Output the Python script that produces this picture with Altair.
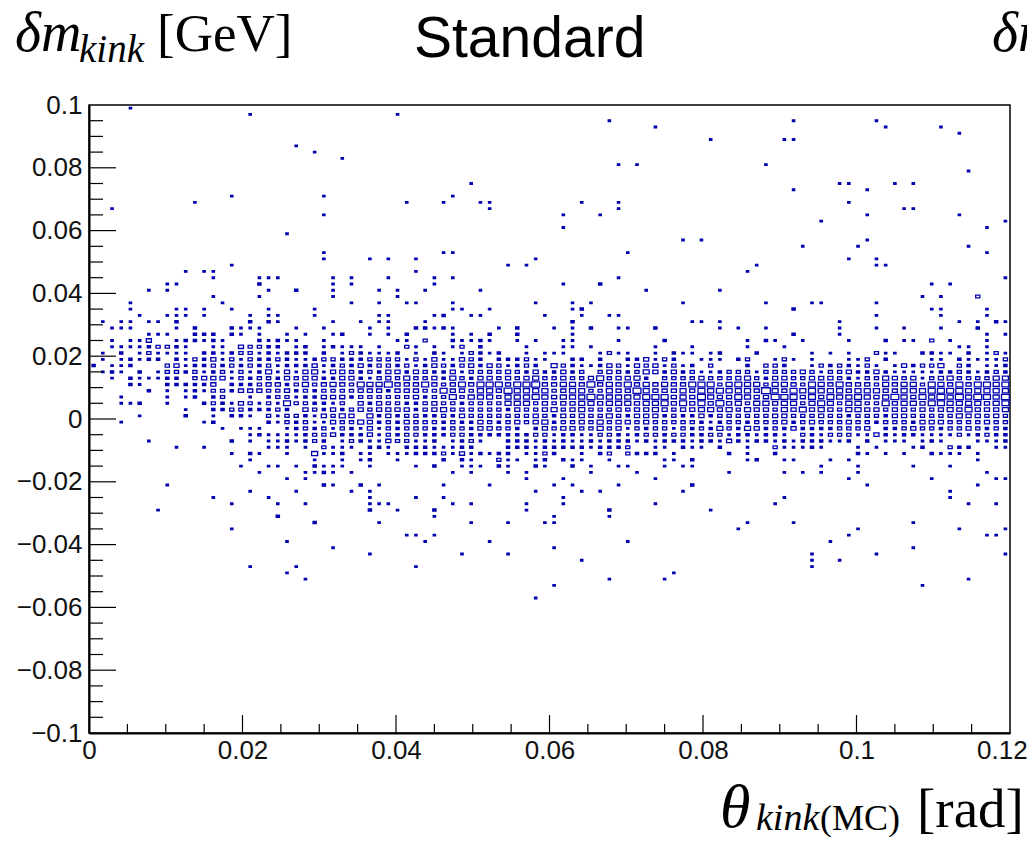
import altair as alt
import pandas as pd

# Each row holds the occupied x-bin numbers of one y-bin: "bin" or "bin:level" (level is box content, default 1)
ROW_P099 = "4"
ROW_P097 = "17 33"
ROW_P095 = "56 76 85"
ROW_P093 = "61 86 92"
ROW_P091 = "94"
ROW_P089 = "67 75 76"
ROW_P087 = "22"
ROW_P085 = "24"
ROW_P083 = "27"
ROW_P081 = "57 59 73"
ROW_P079 = "95"
ROW_P075 = "41 81 82 87 89"
ROW_P073 = "76 84"
ROW_P071 = "15 25 39"
ROW_P069 = "11 34 38 42 43 53 57 82"
ROW_P067 = "2 43 57 88 89"
ROW_P065 = "25 51 55 84 94"
ROW_P063 = "79 99"
ROW_P061 = "51 97"
ROW_P059 = "21"
ROW_P057 = "64 66 84"
ROW_P055 = "77 83 95"
ROW_P053 = "25 38 39 58 97"
ROW_P051 = "25 30 32 35 48 82 85"
ROW_P049 = "15 45 47 72 85 86"
ROW_P047 = "10 12 13 35 71"
ROW_P045 = "13 18 19 20 26 28 32 37 39 57 99"
ROW_P043 = "8 9 18:2 26 28 37 51 55:2 91 93"
ROW_P041 = "6 8 19 22:2 26 31 33 36 42 60 68"
ROW_P039 = "13 18 26 33 90 92 96:3"
ROW_P037 = "4 14 28 31 34 35 39 48 52 54 64 73 78 79 85"
ROW_P035 = "4 9 10 12 15 19 24 39 40 43 52 53:2 76:2 91 92 97"
ROW_P033 = "5 8 9 10 12 17 19 20 24 31 32 37 38:2 41 42 49 53 56 57 85 92 97"
ROW_P031 = "1 3 4 6 7 9:2 17:2 19:2 20 26 29 31 32 36 52:2 65 66 68 81 94 96 98:2 99"
ROW_P029 = "2 3 4 9 11:2 15:2 16 17 18 22 25 30 32 35:2 36:2 37 38:2 39 44 46:2 50 52 54:2 57 58 61:2 68 70 73 81 85 88 92 96:2"
ROW_P027 = "6 7 8 11:2 12:2 13:2 15:2 16 18 21 23 26 27:2 30 32 34:2 39 41 43:2 46:2 52 76:2 81 97 99"
ROW_P025 = "2 4 5 6:4 9 10:2 11:2 12 13:2 14 18:2 19 20:2 21 22 25 33 34 36:3 39:2 40 41 42:2 43 46 48 51 52 57 62:2 71 73:2 74 77 82 86:2 88 89 91:3 93 97"
ROW_P023 = "2 3 4 5 6:2 7:3 8:3 9:2 10 13 14 16:4 17:3 18:3 19:2 20:2 22 23:2 25 26:2 27 28 29 31 34:3 35 37 39 40:3 42:2 47 51 52 54 61 65 71 75 94 95 97"
ROW_P021 = "1 3:2 5 6:3 7 8 9 10 12:2 13:2 14 15:2 16:3 17:3 18 19:2 20 21:2 22:2 23:2 25:2 27 28:3 29:2 30 31 32 33:2 35 37:2 38 40 41:3 42:2 43 44:2 47 49 50 51 55 56:3 57 58 61 63:2 64 65 67 68:2 72:2 78 80 82 85:3 86 87 90:2 91:2 92 93 95:2 97 98:3 99"
ROW_P019 = "1 3 4:2 5 6:2 7:2 9:2 10 11:3 12:2 13:4 14 15:3 16 17:3 18:2 19:2 20:3 21:2 22 23 24:2 25:3 26:3 27:2 28:2 29:2 30:3 31:3 32:3 33:3 34 35:3 36 37:4 38 39 40:4 41:3 42:2 44:2 45:2 46:2 47:3 48 49 52:2 53:2 55:2 58:2 59:2 60:4 61 62:3 63:2 66 67 68 70:2 71:3 74 75:3 76 78 82 83 84:3 86:2 91 92 94:2 95 96 97 98 99:3"
ROW_P017 = "0:2 2 3 4:2 8:3 9:4 10 11:2 12:2 13:3 14:2 15:3 16:2 17:3 18:2 19:3 20 21:2 22:2 23:2 24:4 25 26:2 27:3 28:2 29:4 30:2 31:3 32:3 33:2 34:3 35 36:2 37:4 38:3 39:2 40:3 41:4 42:2 43:4 44:3 45 46:2 47:3 48:2 50:5 51:3 52:2 53 54 55:2 56:4 57:3 58 59:4 60:3 61:4 62 63:3 64 65:2 67:3 71:2 73:3 74:3 75:2 78 79:3 80:2 81:3 82:2 83 84:3 85 87 88:4 89:2 90:3 91:3 92:5 94:3 95:2 97 98 99:2"
ROW_P015 = "1 2:2 3 5:2 7 8:3 9:3 10:2 11:3 12 13:2 14:3 15 16:3 17 18:2 19:5 20 21:4 22 23:4 24:5 25 26:4 27:4 28:3 29:2 30:3 31:2 32:4 33:4 34:2 35:4 36:3 37:2 38:2 39:4 40 41:3 42:3 43:3 44:3 45:4 46:3 47:2 48:4 49:2 50:2 51:4 52:2 53:3 55:3 56:4 57:3 58:2 59:3 60:5 61:4 62:2 63:4 64:2 65:3 66 67 68:2 69:3 70:3 71:3 72 73:3 74:3 75:3 76:3 77:4 78:3 79 80:3 81:3 82:4 83:2 84:2 85:4 86:2 87 88 89 90 91 92:2 93:2 94:3 95:2 96 97:2 98:3 99:2"
ROW_P013 = "2 4:2 5 6 7 8:2 9:2 11:3 12:4 13:4 14:4 15 16:3 17:2 18:3 19:3 20:2 21:4 22:3 23:4 24:4 25:2 26:2 27:4 28:4 29:2 30 31:3 32:4 33:3 34:5 35:3 36:3 37:4 38:2 39:5 40:3 41:2 42:4 43:4 44:3 45:4 46:3 47:4 48:5 49:3 50:3 51:4 52:3 53:3 54:4 55:6 56:3 57:4 58:4 59:5 60:2 62:3 63:3 64:3 65:3 66:4 67:3 68:3 69:3 70:4 71:5 72:3 73:2 74:4 75:4 76:3 77:3 78:4 79:4 80:4 81:3 82:2 83 84:3 85:3 86:5 87:4 88:3 89:4 90 91:3 92:4 93:5 94:3 95:3 96:3 97:3 98:5 99:5"
ROW_P011 = "4:2 5 8:2 9:2 10:2 11:2 12:2 13:4 15:2 16:2 17:2 18:3 19:4 20:4 21:2 22:3 23:5 24:3 25:4 26:5 27:4 28:3 29:6 30:5 31:5 32:7 33:4 34:4 35:4 36:6 37:4 38:3 39:4 40:6 41:4 42:6 43:6 44:6 45:4 46:6 47:6 48:7 49:4 50:4 51:5 52:5 53:4 54:7 55:4 56:5 57:4 58:6 59:4 60:5 61:4 62:5 63:4 64:4 65:6 66:6 67:6 68:3 69:5 70:6 71:5 72:5 73:3 74:5 75:5 76:4 77:3 78:6 79:5 80:4 81:6 82:4 83:4 84:4 85:3 86:5 87:4 88:5 89:5 90:3 91:6 92:5 93:4 94:6 95:4 96:6 97:6 98:5 99:6"
ROW_P009 = "6:2 8 10 11:2 12 13:3 14:3 15:2 16:4 17:4 18:4 19:3 20:3 21:4 22:2 23:3 24:2 25:3 26:3 27:3 28:3 29:4 30:4 31:4 32:2 33:4 34:4 35:4 36:3 37:3 38:6 39:4 40:4 41:3 42:5 43:5 44:4 45:7 46:5 47:5 48:5 49:5 50:3 51:4 52:5 53:5 54:3 55:3 56:5 57:4 58:4 59:7 60:5 61:4 62:4 63:4 64:5 65:4 66:6 67:5 68:6 69:5 70:5 71:5 72:4 73:8 74:5 75:4 76:6 77:5 78:6 79:5 80:5 81:5 82:4 83:5 84:5 85:5 86:4 87:4 88:5 89:5 90:5 91:6 92:6 93:6 94:6 95:5 96:5 97:5 98:5 99:5"
ROW_P007 = "3 8 10 11:2 13:2 14:3 17 19:2 20:3 21:3 22 23:2 24:2 25:4 26:4 27:4 28:2 29:3 30:3 31:3 32:3 33:3 34:3 35:4 36:2 37:3 38:3 39:6 40:3 41:5 42:5 43:5 44:3 45:5 46:5 47:5 48:6 49:5 50:4 51:5 52:5 53:5 54:7 55:5 56:5 57:5 58:5 59:5 60:6 61:6 62:6 63:4 64:5 65:4 66:7 67:5 68:4 69:4 70:6 71:5 72:4 73:4 74:7 75:6 76:6 77:4 78:6 79:4 80:6 81:5 82:5 83:6 84:5 85:4 86:5 87:7 88:5 89:4 90:6 91:5 92:7 93:5 94:7 95:5 96:7 97:6 98:5 99:7"
ROW_P005 = "3 4 5:2 8 12:2 13:3 14:2 15 16:4 17:3 18 19:3 20 21:6 22:3 23:3 24:2 25:2 26 27:3 29:4 30:2 31:4 32:3 33:3 34:2 35:2 36:3 37:4 38:3 39:3 40:2 41:3 42:3 43:3 44:3 45:5 46:5 47:5 48:3 49:4 50:3 51:4 52:4 53:5 54:5 55:4 56:5 57:5 58:5 59:4 60:5 61:5 62:6 63:4 64:6 65:4 66:6 67:4 68:7 69:4 70:5 71:3 72:5 73:5 74:4 75:5 76:5 77:3 78:5 79:6 80:5 81:3 82:5 83:5 84:3 85:3 86:6 87:4 88:5 89:5 90:4 91:6 92:6 93:5 94:5 95:5 96:5 97:4 98:5 99:6"
ROW_P003 = "10 13:2 14:2 15:3 16:3 17:2 18:2 19:2 20:3 21:2 23:4 24:3 25:2 26:4 27:2 28:3 29:4 30:3 31:4 32:4 33:4 34:4 35:2 36:3 37:4 38:5 39:3 40:3 41:3 42:3 43:3 44:3 45:2 46:4 47:3 48:3 49:4 50:5 51:3 52:4 53:5 54:3 55:3 56:3 57:4 58:3 59:4 60:4 61:5 62:4 63:3 64:4 65:4 66:5 67:5 68:4 69:5 70:3 71:5 72:4 73:4 74:3 75:5 76:4 77:6 78:4 79:5 80:4 81:3 82:5 83:5 84:4 85:4 86:3 87:4 88:4 89:3 90:4 91:3 92:4 93:5 94:4 95:6 96:4 97:4 98:4 99:5"
ROW_P001 = "5 10:2 13 15:2 16:2 17 19:3 20 21:3 22:3 23:2 24 25:4 26:3 27:5 28:4 30:5 31:2 32:4 33:2 34:3 35:3 36:2 37:2 38:3 39:2 40:4 41:3 42:3 43:3 44:3 45:3 46:3 47:3 48:4 49:3 50:2 51:4 52:3 53:4 54:3 55:3 56:5 57:3 58:2 59:4 60:4 61:4 62:2 63:3 64:2 65:2 66:4 67:2 68:3 69:3 70:3 71:3 72:3 73:3 74:4 75:4 76:3 77:3 78:3 79:4 80:3 81:3 82:2 83:3 84:3 85:3 86:2 87:4 88:4 89:3 90:3 91:3 92:3 93:3 94:5 95:4 96:4 97:3 98:4 99:3"
ROW_M001 = "3 12 13:2 19:2 20 21:3 22:2 23:3 24 25 26:4 27:3 28:3 29:5 30:4 31:2 32:3 33:2 34:4 35:3 36:3 37:3 38:2 39:3 40:2 41:2 42:4 43:3 44:2 45:3 46:4 47:3 48:4 49:5 50:2 51:3 52:3 53:4 54:3 55:5 56:3 57:4 58:4 59:3 60:4 61:3 62:3 63:3 64:3 65:3 66:2 67 68:2 69:3 70:3 71:2 72:3 73:3 74:3 75:4 76:2 77:3 78:4 79:3 80:3 81:3 82:4 83:3 84:3 85:2 86:3 87:3 88:3 89:2 90:4 91:4 92:4 93:3 94:3 95:3 96:3 97:4 98:3 99:3"
ROW_M003 = "14 16 17 18 21 22:2 23:3 24:2 25:3 26 27:3 28:2 29 30:4 31 32:3 33:2 34:3 35:3 36:3 37:2 38:2 39:3 40:3 41:2 42:4 43:4 44:3 45:3 46:2 48:2 49:4 50:3 51:4 52:4 53:3 54:3 55:5 56:3 57:4 58 59:3 60:2 61:3 62:3 63 64:3 65:2 66:3 67:2 68:5 69:3 70:2 71:5 72:4 73:2 74:3 75:2 76:4 77:2 78:2 79:2 80:2 81:3 82:3 83:3 84:4 86:2 87:2 88:3 89:4 90:3 91:3 92:2 93:3 94:3 95:4 96:3 97:2 98:3 99:2"
ROW_M005 = "17 18:2 19 20 21 22 23:2 24:3 25:3 26:4 27:2 28:2 29:2 30:4 31 32:3 33:2 34:3 35:3 36:2 37:2 38:2 39:3 40:3 41:2 42:2 43:2 44:2 45:2 46:2 47:2 48:3 49:3 50 51:2 52:2 53 54 55:3 56:3 57:2 58 59:2 60:3 61:3 62:2 63:3 64:3 65:2 66:2 67:3 68:3 69 70:2 71:2 72 73:2 74:2 75 77:3 78:2 79 80:3 81:3 82:3 83 84 85:4 86:2 87 88:2 89:2 90 91 92 93 94:3 95 96:2 97:3 98:2 99:2"
ROW_M007 = "6 15:2 17 19 20 21:2 22 23:2 24:3 25:2 27 28:3 29:2 30 31 32:4 33:3 34:3 35 36 37:2 39 40:2 41:3 42 45:2 46:2 47:2 48 49:2 50 51:2 52 53 54:2 55 56:2 57:2 58:2 59 60:2 61 62:2 63:2 64:2 65 66:2 67:2 68 69:4 70:2 71 72:2 73:2 74 75:2 76 77:2 78:2 79:2 80 81 82:2 84:2 86 87 88 90 91:2 92 96 97 98 99:2"
ROW_M009 = "9 12 19 20 21 23 25:3 26 27 28 30:2 31:2 32 34:2 35:2 36:2 37 38 39 40:2 41:2 45:2 46:2 47:2 48 49:2 50:2 51:2 52:2 53:2 54 55:2 56:2 57:2 58:3 61 62 64:2 65 66 68:2 71 74:3 75 76 77 78:2 79 83 85 89 90:2 93:3 94:2 95:2 98 99"
ROW_M011 = "15 17:2 18 21 24:5 25 26 27:2 29 30 32 33 34 35:2 36:2 37:2 38:3 39 40:4 41 42:2 43 44:2 45:2 47 48 49:3 50:2 53 55:2 56:3 58:3 59:2 60:2 61:2 63 69:2 71 74:2 83:2 84 86 88 91:2 92 93 94 96"
ROW_M013 = "17 24 27 29 30:2 33 38:2 40:2 41 44:3 45 46 48 49:2 51:2 52 53 56 62 63 65:2 71 72:2 75 76 80 82 96"
ROW_M015 = "16 19 20 22 24:2 25 26 27 30 35 37:2 40 41 42 44:2 45 48:2 49 52:2 54 57 58 62 64 65 79 83 89 93"
ROW_M017 = "18 23 24 25:2 26 28 39 41 45 47 54 59 69 75 77 79 83 97"
ROW_M019 = "21 23 47 51 61 82 91 98 99"
ROW_M021 = "8 25:2 26 29:2 31 38 43 50 52 57 65:2 84 96"
ROW_M023 = "17 22 28 30 48 53 55 64 93"
ROW_M025 = "13 19 30 35 38 51 75 93"
ROW_M027 = "15 20 23 30 31 32 39 41 47 51 61 74 95 98"
ROW_M029 = "7 30:2 33 37:2 47 56:2 67"
ROW_M031 = "20:2 37 50 56"
ROW_M033 = "24:2 31 41 45 49 50 71 76 89"
ROW_M035 = "15 70 83 94 99"
ROW_M037 = "34 35 37 82 97 98"
ROW_M039 = "21 36 43 58 80"
ROW_M041 = "26 50 89"
ROW_M043 = "30 40 45 78 85 99"
ROW_M045 = "53 78 81"
ROW_M047 = "17 22 35 78"
ROW_M049 = "21 63"
ROW_M051 = "23 56 62 95"
ROW_M053 = "50 90"
ROW_M057 = "48"

ROWS = [
    (99, ROW_P099), (97, ROW_P097), (95, ROW_P095), (93, ROW_P093), (91, ROW_P091), (89, ROW_P089),
    (87, ROW_P087), (85, ROW_P085), (83, ROW_P083), (81, ROW_P081), (79, ROW_P079), (75, ROW_P075),
    (73, ROW_P073), (71, ROW_P071), (69, ROW_P069), (67, ROW_P067), (65, ROW_P065), (63, ROW_P063),
    (61, ROW_P061), (59, ROW_P059), (57, ROW_P057), (55, ROW_P055), (53, ROW_P053), (51, ROW_P051),
    (49, ROW_P049), (47, ROW_P047), (45, ROW_P045), (43, ROW_P043), (41, ROW_P041), (39, ROW_P039),
    (37, ROW_P037), (35, ROW_P035), (33, ROW_P033), (31, ROW_P031), (29, ROW_P029), (27, ROW_P027),
    (25, ROW_P025), (23, ROW_P023), (21, ROW_P021), (19, ROW_P019), (17, ROW_P017), (15, ROW_P015),
    (13, ROW_P013), (11, ROW_P011), (9, ROW_P009), (7, ROW_P007), (5, ROW_P005), (3, ROW_P003),
    (1, ROW_P001), (-1, ROW_M001), (-3, ROW_M003), (-5, ROW_M005), (-7, ROW_M007), (-9, ROW_M009),
    (-11, ROW_M011), (-13, ROW_M013), (-15, ROW_M015), (-17, ROW_M017), (-19, ROW_M019), (-21, ROW_M021),
    (-23, ROW_M023), (-25, ROW_M025), (-27, ROW_M027), (-29, ROW_M029), (-31, ROW_M031), (-33, ROW_M033),
    (-35, ROW_M035), (-37, ROW_M037), (-39, ROW_M039), (-41, ROW_M041), (-43, ROW_M043), (-45, ROW_M045),
    (-47, ROW_M047), (-49, ROW_M049), (-51, ROW_M051), (-53, ROW_M053), (-57, ROW_M057),
]

X_LABELS = [0, 0.02, 0.04, 0.06, 0.08, 0.1]
Y_LABELS = [-0.1, -0.08, -0.06, -0.04, -0.02, 0, 0.02, 0.04, 0.06, 0.08, 0.1]
X_MAJOR = [0.02, 0.04, 0.06, 0.08, 0.1]
X_MINOR = [0.005, 0.01, 0.015, 0.025, 0.03, 0.035, 0.045, 0.05, 0.055, 0.065, 0.07, 0.075, 0.085, 0.09, 0.095, 0.105, 0.11, 0.115]
Y_MAJOR = [-0.08, -0.06, -0.04, -0.02, 0, 0.02, 0.04, 0.06, 0.08]
Y_MINOR = [-0.095, -0.09, -0.085, -0.075, -0.07, -0.065, -0.055, -0.05, -0.045, -0.035, -0.03, -0.025, -0.015, -0.01, -0.005,
           0.005, 0.01, 0.015, 0.025, 0.03, 0.035, 0.045, 0.05, 0.055, 0.065, 0.07, 0.075, 0.085, 0.09, 0.095]

BLUE = "#0000b0"
SERIF = "Liberation Serif"
SANS = "Liberation Sans"

records = []
for v, row in ROWS:
    for tok in row.split():
        k, _, lv = tok.partition(":")
        records.append({"k": int(k), "v": v, "level": int(lv or 1)})
df = pd.DataFrame(records)
XW, YW = 0.0012, 0.002
df["frac"] = 0.15 + 0.1 * df["level"]
df["xc"] = (df["k"] + 0.5) * XW
df["yc"] = df["v"] / 1000
df["x0"] = df["xc"] - df["frac"] * XW / 2
df["x1"] = df["xc"] + df["frac"] * XW / 2
df["y0"] = df["yc"] - df["frac"] * YW / 2
df["y1"] = df["yc"] + df["frac"] * YW / 2

xscale = alt.Scale(domain=[0, 0.12], nice=False, zero=False)
yscale = alt.Scale(domain=[-0.1, 0.1], nice=False, zero=False)

axis_style = dict(
    format="~g", ticks=False, grid=False, domainColor="black", domainWidth=2,
    labelFont=SANS, labelFontSize=26, labelColor="#111111", labelOverlap=False, labelFlush=False, title=None,
)

boxes = alt.Chart(df).mark_rect(stroke=BLUE, strokeWidth=1.3).encode(
    x=alt.X("x0:Q", scale=xscale, axis=alt.Axis(values=X_LABELS, labelPadding=4, **axis_style)),
    x2="x1:Q",
    y=alt.Y("y0:Q", scale=yscale, axis=alt.Axis(values=Y_LABELS, labelPadding=7, **axis_style)),
    y2="y1:Q",
    fill=alt.condition("datum.level <= 2", alt.value(BLUE), alt.value("white")),
)


def xticks(vals, length):
    d = pd.DataFrame({"v": vals})
    return alt.Chart(d).mark_rule(color="black", strokeWidth=1.2).encode(
        x=alt.X("v:Q", scale=xscale, axis=None), y=alt.value(628), y2=alt.value(628 - length)
    )


def yticks(vals, length):
    d = pd.DataFrame({"v": vals})
    return alt.Chart(d).mark_rule(color="black", strokeWidth=1.2).encode(
        y=alt.Y("v:Q", scale=yscale, axis=None), x=alt.value(0), x2=alt.value(length)
    )


def label(text, x, y, size, font=SERIF, style="normal", color="black"):
    return alt.Chart(pd.DataFrame({"t": [text]})).mark_text(
        align="left", baseline="alphabetic", font=font, fontSize=size, fontStyle=style, color=color
    ).encode(text="t:N", x=alt.value(x - 89), y=alt.value(y - 105))


chart = alt.layer(
    boxes,
    xticks(X_MAJOR, 18), xticks(X_MINOR, 9),
    yticks(Y_MAJOR, 27), yticks(Y_MINOR, 14),
    label("δm", 15, 51, 56, style="italic"),
    label("kink", 79, 62, 39, style="italic"),
    label("[GeV]", 157, 51, 53),
    label("Standard", 414, 57, 57, font=SANS),
    label("δm", 992, 51, 56, style="italic"),
    label("0.12", 977, 759, 26, font=SANS, color="#111111"),
    label("θ", 720, 827, 62, style="italic"),
    label("kink", 756, 830, 38, style="italic"),
    label("(MC)", 820, 830, 36),
    label("[rad]", 917, 827, 55),
).resolve_axis(x="independent", y="independent").properties(
    width=921, height=628,
    autosize=alt.AutoSizeParams(type="none"),
    padding={"left": 81, "top": 97, "right": 17, "bottom": 104},
    background="white",
).configure_view(stroke="black", strokeWidth=1.5)

chart.save("out.html", embed_options={"renderer": "svg", "actions": False})
